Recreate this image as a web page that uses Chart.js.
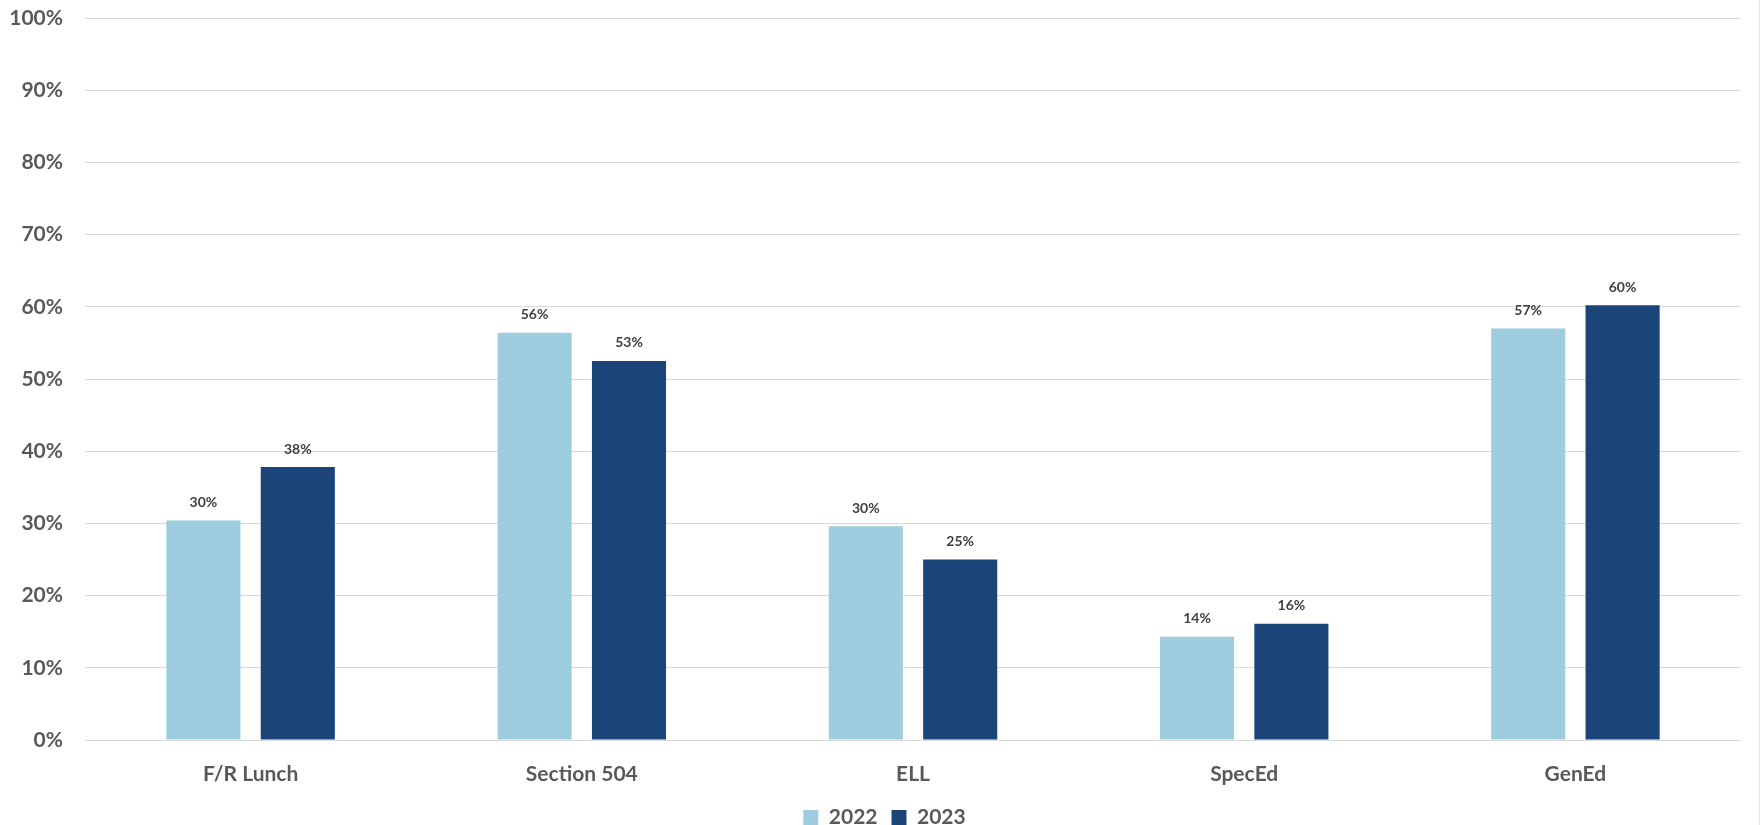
<!DOCTYPE html>
<html>
<head>
<meta charset="utf-8">
<script src="https://cdn.jsdelivr.net/npm/chart.js@4/dist/chart.umd.min.js"></script>
<style>
html,body{margin:0;padding:0;background:#fff;}
#wrap{width:1761px;height:825px;position:relative;}
#edge{position:absolute;left:1759px;top:0;width:1px;height:825px;background:#E6E6E6;}
</style>
</head>
<body>
<div id="wrap"><canvas id="c" width="1761" height="825"></canvas><div id="edge"></div></div>
<script>
const categories = ["F/R Lunch", "Section 504", "ELL", "SpecEd", "GenEd"];
const seriesNames = ["2022", "2023"];
const values2022 = [30.4, 56.4, 29.6, 14.3, 57.0];
const values2023 = [37.8, 52.5, 25.0, 16.1, 60.2];
const colors = ["#9ECDDF", "#1B4479"];
const yTicks = [0, 10, 20, 30, 40, 50, 60, 70, 80, 90, 100];

const FONT = "Lato, 'Open Sans', sans-serif";

const barLabels = {
  id: 'barLabels',
  afterDatasetsDraw(chart) {
    const ctx = chart.ctx;
    ctx.save();
    ctx.font = "bold 14px " + FONT;
    ctx.fillStyle = "#404040";
    ctx.textAlign = "center";
    ctx.textBaseline = "bottom";
    chart.data.datasets.forEach((ds, i) => {
      const meta = chart.getDatasetMeta(i);
      meta.data.forEach((el, j) => {
        ctx.fillText(Math.round(ds.data[j]) + "%", el.x, el.y - 11);
      });
    });
    ctx.restore();
  }
};

const legendShift = {
  id: 'legendShift',
  afterLayout(chart) {
    if (chart.legend) { chart.legend.left += 14; chart.legend.right += 14; }
  }
};

new Chart(document.getElementById('c'), {
  type: 'bar',
  data: {
    labels: categories,
    datasets: [
      { label: seriesNames[0], data: values2022, backgroundColor: colors[0], categoryPercentage: 0.57, barPercentage: 0.785 },
      { label: seriesNames[1], data: values2023, backgroundColor: colors[1], categoryPercentage: 0.57, barPercentage: 0.785 }
    ]
  },
  options: {
    responsive: false,
    animation: false,
    layout: { padding: { left: 0, right: 20, top: 18, bottom: -13 } },
    plugins: {
      legend: {
        position: 'bottom',
        labels: {
          boxWidth: 15, boxHeight: 15, padding: 14,
          color: "#595959",
          font: { family: FONT, size: 21, weight: 'bold' }
        }
      },
      tooltip: { enabled: false }
    },
    scales: {
      x: {
        grid: { display: false, drawTicks: false },
        border: { display: false },
        ticks: { color: "#595959", padding: 22, font: { family: FONT, size: 21, weight: 'bold' } },
        afterFit(axis) { axis.height = 53; axis.paddingLeft = 0; axis.paddingRight = 0; }
      },
      y: {
        min: 0, max: 100,
        afterBuildTicks(axis) { axis.ticks = yTicks.map(v => ({ value: v })); },
        grid: { color: "#D9D9D9", lineWidth: 1, drawTicks: false },
        border: { display: false },
        ticks: {
          color: "#595959", padding: 22,
          font: { family: FONT, size: 21, weight: 'bold' },
          callback: v => v + "%"
        },
        afterFit(axis) { axis.width = 85; axis.paddingTop = 0; axis.paddingBottom = 0; }
      }
    }
  },
  plugins: [barLabels, legendShift]
});
</script>
</body>
</html>
